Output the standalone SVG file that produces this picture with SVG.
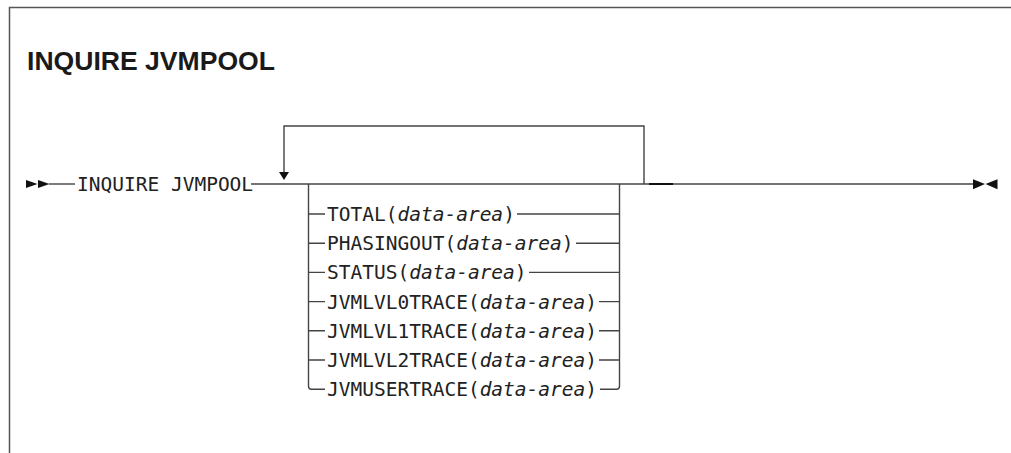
<svg xmlns="http://www.w3.org/2000/svg" width="1011" height="453" viewBox="0 0 1011 453">
<style>
.frame{fill:none;stroke:#555;stroke-width:1.5}
.ln{fill:none;stroke:#444;stroke-width:1.4}
.ah{fill:#111;stroke:none}
.title{font-family:"Liberation Sans",Arial,sans-serif;font-weight:bold;font-size:26px;fill:#1a1a1a}
.kw{font-family:"DejaVu Sans Mono","Liberation Mono",monospace;font-size:19.5px;fill:#222}
.it{font-style:italic}
</style>
<rect width="1011" height="453" fill="#fff"/>
<path class="frame" d="M9.5,453 V7.5 H1011"/>
<text class="title" x="27" y="70" textLength="248" lengthAdjust="spacingAndGlyphs">INQUIRE JVMPOOL</text>
<g id="connectors">
<path class="ln" d="M49,184 H75"/>
<path class="ln" d="M251,184 H973"/>
<path class="ln" d="M644,184 V126 H284 V174"/>
<path d="M649,184 H673" stroke="#111" stroke-width="2" fill="none"/>
<path class="ln" d="M308.5,184 V386 Q308.5,389.2 311.5,389.2 H325"/>
<path class="ln" d="M619.5,184 V386 Q619.5,389.2 616.5,389.2 H600"/>
<path class="ln" d="M308.5,214 H325 M517,214 H619.5"/>
<path class="ln" d="M308.5,243.2 H325 M576,243.2 H619.5"/>
<path class="ln" d="M308.5,272.4 H325 M529,272.4 H619.5"/>
<path class="ln" d="M308.5,301.6 H325 M599,301.6 H619.5"/>
<path class="ln" d="M308.5,330.8 H325 M599,330.8 H619.5"/>
<path class="ln" d="M308.5,360 H325 M599,360 H619.5"/>
<path class="ah" d="M279,172 H289 L284,180 Z"/>
</g>
<g id="start">
<path class="ah" d="M26,180 L37.5,184 L26,188 Z M38,180 L49.5,184 L38,188 Z"/>
<text class="kw" x="77" y="191">INQUIRE JVMPOOL</text>
</g>
<g id="end">
<path class="ah" d="M973,179.3 L985,184 L973,189.3 Z M997.5,179.3 L985.5,184 L997.5,189.3 Z"/>
</g>
<g id="opt-total"><text class="kw" x="327" y="221">TOTAL(<tspan class="it">data-area</tspan>)</text></g>
<g id="opt-phasingout"><text class="kw" x="327" y="250.2">PHASINGOUT(<tspan class="it">data-area</tspan>)</text></g>
<g id="opt-status"><text class="kw" x="327" y="279.4">STATUS(<tspan class="it">data-area</tspan>)</text></g>
<g id="opt-lvl0"><text class="kw" x="327" y="308.6">JVMLVL0TRACE(<tspan class="it">data-area</tspan>)</text></g>
<g id="opt-lvl1"><text class="kw" x="327" y="337.8">JVMLVL1TRACE(<tspan class="it">data-area</tspan>)</text></g>
<g id="opt-lvl2"><text class="kw" x="327" y="367">JVMLVL2TRACE(<tspan class="it">data-area</tspan>)</text></g>
<g id="opt-user"><text class="kw" x="327" y="396.2">JVMUSERTRACE(<tspan class="it">data-area</tspan>)</text></g>
</svg>
